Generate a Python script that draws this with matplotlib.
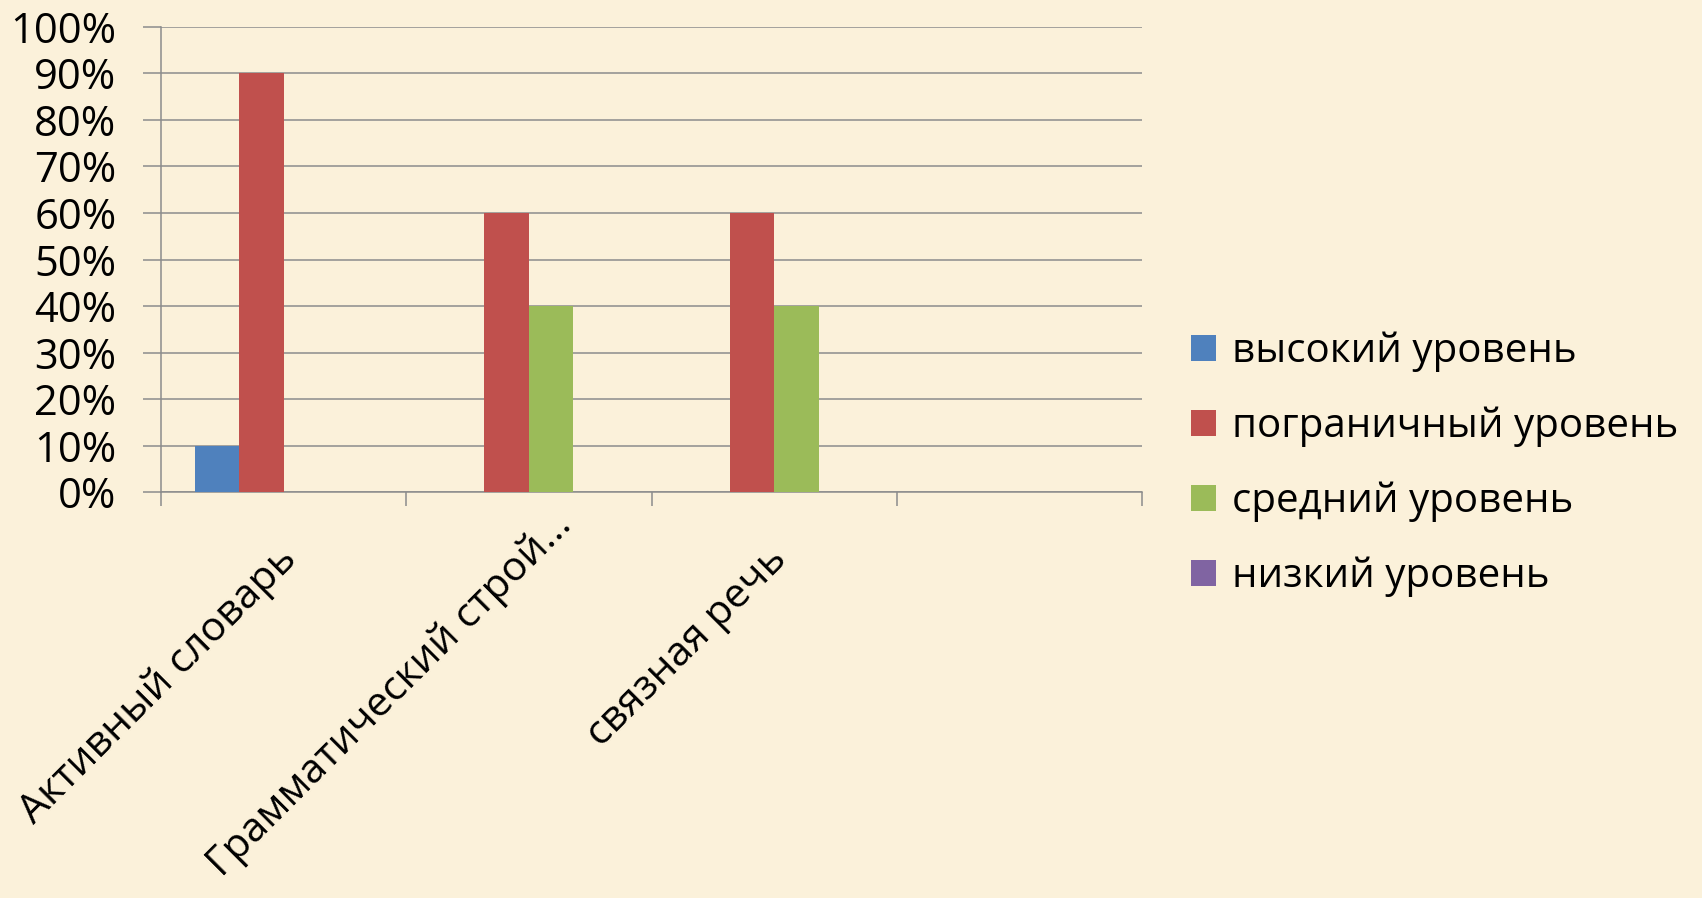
import numpy as np
import matplotlib
matplotlib.use('Agg')
import matplotlib.pyplot as plt
from matplotlib.patches import Patch
from matplotlib.ticker import PercentFormatter

plt.rcParams['font.family'] = ['Open Sans', 'DejaVu Sans']

# data (4th category is empty)
categories = ['Активный словарь', 'Грамматический строй...', 'связная речь', '']
series = ['высокий уровень', 'пограничный уровень', 'средний уровень', 'низкий уровень']
high = [0.10, 0.0, 0.0, 0.0]
border = [0.90, 0.60, 0.60, 0.0]
middle = [0.0, 0.40, 0.40, 0.0]
low = [0.0, 0.0, 0.0, 0.0]
colors = ['#4F81BD', '#C0504D', '#9BBB59', '#8064A2']

bg = '#FBF1DA'
grid_c = '#8C8C8C'

fig = plt.figure(figsize=(17.02, 8.98), dpi=100, facecolor=bg)
ax = fig.add_axes([0.0946, 0.452, 0.5765, 0.518])
ax.set_facecolor('none')

x = np.arange(len(categories))
w = 0.1814
for i, vals in enumerate([high, border, middle, low]):
    ax.bar(x + (i - 1.5) * w, vals, width=w, color=colors[i], zorder=3)

ax.set_ylim(0, 1)
ax.set_xlim(-0.5, len(categories) - 0.5)
ax.set_yticks(np.arange(0, 1.01, 0.1))
ax.yaxis.set_major_formatter(PercentFormatter(1.0, decimals=0))
ax.grid(axis='y', color=grid_c, linewidth=1.1, zorder=0)

# tick marks sit on the category boundaries
ax.set_xticks(np.arange(-0.5, len(categories), 1.0))
ax.set_xticklabels([])
ax.tick_params(axis='x', length=10, width=1.1, color=grid_c, direction='out')
ax.tick_params(axis='y', length=13, width=1.1, color=grid_c, labelsize=30, pad=19)

# rotated category labels (pixel offsets of the label's right end)
label_off = [(7, -61), (37, -27), (7, -61), (7, -61)]
for i, cat in enumerate(categories):
    ax.annotate(cat, xy=(x[i], 0), xycoords=('data', 'axes fraction'),
                xytext=label_off[i], textcoords='offset pixels',
                rotation=45, ha='right', va='center', rotation_mode='anchor',
                fontsize=29.5, annotation_clip=False)

for s in ['top', 'right']:
    ax.spines[s].set_visible(False)
for s in ['left', 'bottom']:
    ax.spines[s].set_color(grid_c)
    ax.spines[s].set_linewidth(1.1)

handles = [Patch(facecolor=c) for c in colors]
fig.legend(handles, series, loc='center left', bbox_to_anchor=(0.700, 0.483),
           frameon=False, fontsize=29, handlelength=0.62, handleheight=0.62,
           handletextpad=0.4, labelspacing=0.86, borderpad=0, borderaxespad=0)

fig.savefig('out.png', dpi=100, facecolor=bg)
